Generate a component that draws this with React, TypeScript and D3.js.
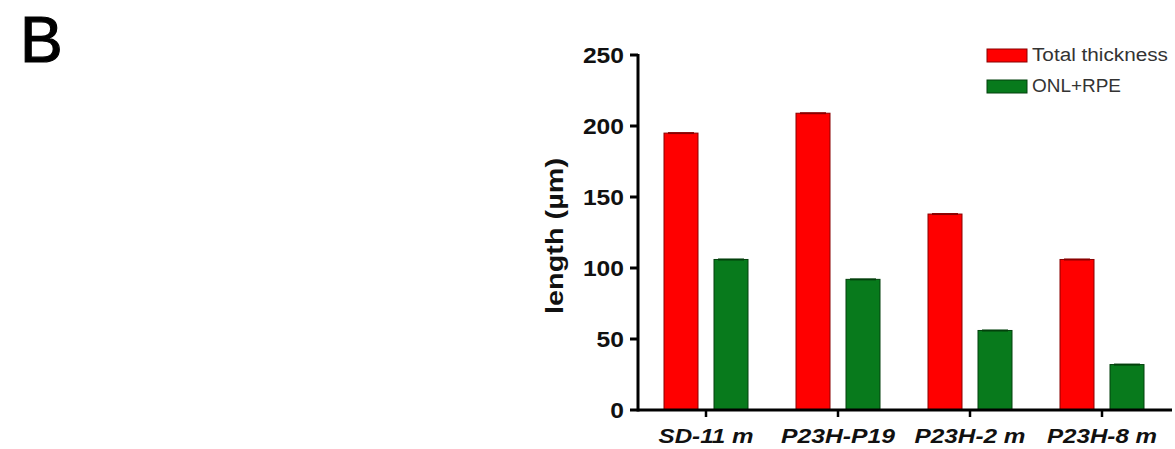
import React from "react";
import * as d3 from "d3";

const categories = ["SD-11 m", "P23H-P19", "P23H-2 m", "P23H-8 m"];
const seriesNames = ["Total thickness", "ONL+RPE"];
const totalThickness = [195, 209, 138, 106];
const onlRpe = [106, 92, 56, 32];
const yTicks = [0, 50, 100, 150, 200, 250];
const seriesColors = ["#ff0000", "#087a1c"];
const seriesStroke = ["#8a0000", "#03400c"];

export default function App() {
  const W = 1175;
  const H = 449;
  const axisX = 638;
  const x0 = d3.scaleBand<string>().domain(categories).range([640, 1168]).paddingInner(0).paddingOuter(0);
  const x1 = d3.scaleBand<string>().domain(seriesNames).range([24, 108]).paddingInner(0.32).paddingOuter(0);
  const y = d3.scaleLinear().domain([0, 250]).range([410, 55]);
  const values = [totalThickness, onlRpe];
  const font = "Arial, 'Liberation Sans', Helvetica, sans-serif";
  const xLabelWidths = [95, 114, 111, 110];
  const legendWidths = [136, 89];

  return (
    <svg width={W} height={H} style={{ position: "absolute", left: 0, top: 0, background: "#fff" }} fontFamily={font}>
      <text x={20} y={62} fontSize={64} fill="#000" stroke="#000" strokeWidth={1.2}>B</text>

      {/* bars */}
      {categories.map((c, ci) => (
        <g key={c} transform={`translate(${x0(c)},0)`}>
          {seriesNames.map((s, si) => {
            const v = values[si][ci];
            return (
              <g key={s}>
                <rect x={x1(s)} y={y(v)} width={x1.bandwidth()} height={y(0) - y(v)}
                  fill={seriesColors[si]} stroke={seriesStroke[si]} strokeWidth={1} />
                <line x1={(x1(s) as number) + 4} x2={(x1(s) as number) + x1.bandwidth() - 4}
                  y1={y(v)} y2={y(v)} stroke={seriesStroke[si]} strokeWidth={2} />
              </g>
            );
          })}
        </g>
      ))}

      {/* y axis */}
      <line x1={axisX} x2={axisX} y1={y(250) - 1} y2={y(0) + 1.5} stroke="#000" strokeWidth={3} />
      {yTicks.map((t) => {
        const label = String(t);
        return (
          <g key={t}>
            <line x1={axisX - 8} x2={axisX} y1={y(t)} y2={y(t)} stroke="#000" strokeWidth={3} />
            <text x={axisX - 14} y={y(t)} dy="0.36em" textAnchor="end" fontSize={22} fontWeight="bold" fill="#111"
              textLength={label.length * 13.7} lengthAdjust="spacingAndGlyphs">{label}</text>
          </g>
        );
      })}
      <text transform={`translate(563,236) rotate(-90)`} textAnchor="middle"
        fontSize={23} fontWeight="bold" fill="#111" textLength={156} lengthAdjust="spacingAndGlyphs">length (µm)</text>

      {/* x axis */}
      <line x1={axisX} x2={1172} y1={y(0)} y2={y(0)} stroke="#000" strokeWidth={3} />
      {categories.map((c, ci) => {
        const cx = (x0(c) as number) + x0.bandwidth() / 2;
        return (
          <g key={c}>
            <line x1={cx} x2={cx} y1={y(0)} y2={y(0) + 7} stroke="#000" strokeWidth={2.5} />
            <text x={cx} y={443} textAnchor="middle" fontSize={20} fontWeight="bold" fontStyle="italic" fill="#111"
              textLength={xLabelWidths[ci]} lengthAdjust="spacingAndGlyphs">{c}</text>
          </g>
        );
      })}

      {/* legend */}
      {seriesNames.map((s, si) => (
        <g key={s} transform={`translate(987,${55 + si * 31})`}>
          <rect x={0} y={-6} width={40} height={13} fill={seriesColors[si]} stroke={seriesStroke[si]} strokeWidth={1} />
          <text x={45} y={0} dy="0.36em" fontSize={18} fill="#333"
            textLength={legendWidths[si]} lengthAdjust="spacingAndGlyphs">{s}</text>
        </g>
      ))}
    </svg>
  );
}
